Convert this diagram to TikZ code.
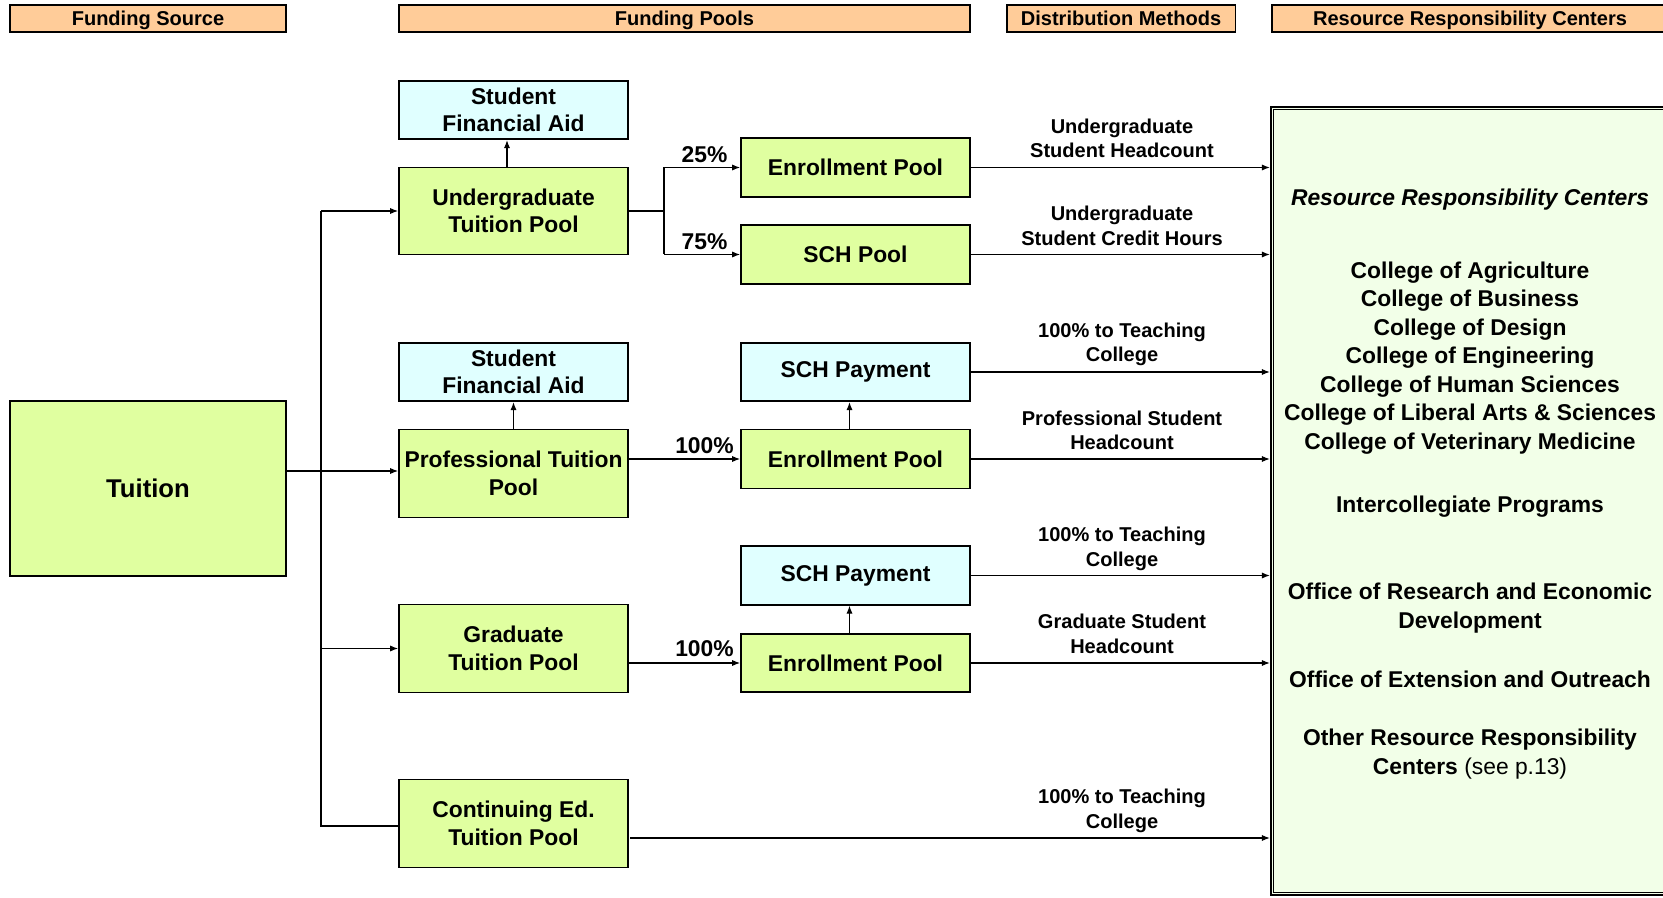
\documentclass[tikz,border=0pt]{standalone}
\usepackage{fontspec}
\setmainfont{Liberation Sans}
\usetikzlibrary{arrows.meta}
\definecolor{poolgreen}{HTML}{E0FFA0}
\definecolor{aidcyan}{HTML}{E0FFFF}
\definecolor{rrcgreen}{HTML}{F2FFE8}
\definecolor{hdrorange}{HTML}{FFCC99}
\begin{document}
\begin{tikzpicture}[x=0.02cm,y=-0.02cm,
  box/.style={draw, line width=1.1pt, minimum width=4.58cm, align=center,
    font=\fontsize{13}{15.6}\selectfont\bfseries, inner sep=1pt},
  greenbox/.style={box, fill=poolgreen},
  cyanbox/.style={box, fill=aidcyan},
  hdr/.style={draw, line width=1.1pt, fill=hdrorange,
    font=\fontsize{11.4}{13.9}\selectfont\bfseries, minimum height=0.53cm, inner sep=0pt, text depth=0pt},
  lbl/.style={align=center, font=\fontsize{11.4}{13.9}\selectfont\bfseries, inner sep=0pt},
  pct/.style={font=\fontsize{13}{15.6}\selectfont\bfseries, inner sep=0pt},
  rrct/.style={align=center, font=\fontsize{13}{16.2}\selectfont\bfseries, inner sep=0pt},
  arr/.style={-{Latex[length=4.5pt,width=3.5pt]}, line width=0.6pt},
  conn/.style={line width=0.6pt}]
\useasboundingbox (0,0) rectangle (1663,898);
\clip (0,0) rectangle (1663,898);

% headers
\node[hdr, minimum width=5.53cm] (h1) at (148,18.5) {Funding Source};
\node[hdr, minimum width=11.42cm] (h2) at (684.5,18.5) {Funding Pools};
\node[hdr, minimum width=4.58cm] (h3) at (1121,18.5) {Distribution Methods};
\node[hdr, minimum width=7.93cm] (h4) at (1470,18.5) {Resource Responsibility Centers};

% RRC box
\node[draw, line width=1.4pt, fill=rrcgreen, minimum width=7.94cm, minimum height=15.76cm, inner sep=0pt] (rrc) at (1469.5,501) {};
\draw[line width=0.6pt] ([shift={(3.5,3.5)}]rrc.north west) rectangle ([shift={(-3.5,-3.5)}]rrc.south east);

\node[rrct, font=\fontsize{13}{16.2}\selectfont\bfseries\itshape] (rrchead) at (1470,200) {Resource Responsibility Centers};
\node[rrct] (colleges) at (1470,358) {College of Agriculture\\College of Business\\College of Design\\College of Engineering\\College of Human Sciences\\College of Liberal Arts \& Sciences\\College of Veterinary Medicine};
\node[rrct] (icp) at (1470,507) {Intercollegiate Programs};
\node[rrct] (ored) at (1470,608) {Office of Research and Economic\\Development};
\node[rrct] (oeo) at (1470,679.5) {Office of Extension and Outreach};
\node[rrct] (other) at (1470,754) {Other Resource Responsibility\\Centers {\mdseries (see p.13)}};

% pool boxes
\node[greenbox, minimum width=5.53cm, minimum height=3.5cm, font=\fontsize{14.6}{17}\selectfont\bfseries] (tuition) at (148,488.5) {Tuition};
\node[cyanbox, minimum height=1.17cm] (sfa1) at (513.5,110) {Student\\Financial Aid};
\node[greenbox, minimum height=1.74cm] (utp) at (513.5,211) {Undergraduate\\Tuition Pool};
\node[greenbox, minimum height=1.18cm] (ep1) at (855.5,167.5) {Enrollment Pool};
\node[greenbox, minimum height=1.18cm] (schp) at (855.5,254.5) {SCH Pool};
\node[cyanbox, minimum height=1.17cm] (sfa2) at (513.5,372) {Student\\Financial Aid};
\node[greenbox, minimum height=1.76cm] (ptp) at (513.5,473.5) {Professional Tuition\\Pool};
\node[cyanbox, minimum height=1.17cm] (pay1) at (855.5,372) {SCH Payment};
\node[greenbox, minimum height=1.18cm] (ep2) at (855.5,459) {Enrollment Pool};
\node[cyanbox, minimum height=1.17cm] (pay2) at (855.5,575.5) {SCH Payment};
\node[greenbox, minimum height=1.17cm] (ep3) at (855.5,663) {Enrollment Pool};
\node[greenbox, minimum height=1.76cm] (gtp) at (513.5,648.5) {Graduate\\Tuition Pool};
\node[greenbox, minimum height=1.76cm] (cetp) at (513.5,823.5) {Continuing Ed.\\Tuition Pool};

% trunk
\coordinate (tj) at (321,471);
\coordinate (cj) at (321,826);
\draw[conn] (tuition.east |- tj) -- (tj);
\draw[arr] (tj) -- (tj -| ptp.west);
\draw[conn] (tj |- utp.west) -- (cj) -- (cj -| cetp.west);
\draw[arr] (tj |- utp.west) -- (utp.west);
\draw[arr] (tj |- gtp.west) -- (gtp.west);

% undergraduate split
\coordinate (sp) at (664,211);
\draw[conn] (utp.east) -- (sp);
\draw[conn] (sp |- ep1) -- (sp |- schp);
\draw[arr] (sp |- ep1) -- (ep1.west);
\draw[arr] (sp |- schp) -- (schp.west);
\node[pct] (p25) at (704.5,155) {25\%};
\node[pct] (p75) at (704.5,242) {75\%};

\draw[arr] (ptp.east |- ep2) -- (ep2.west);
\draw[arr] (gtp.east |- ep3) -- (ep3.west);
\node[pct] (p100a) at (704.5,445.5) {100\%};
\node[pct] (p100b) at (704.5,649) {100\%};

% up arrows
\coordinate (ua) at (507,0);
\draw[arr] (utp.north -| ua) -- (sfa1.south -| ua);
\draw[arr] (ptp.north) -- (sfa2.south);
\coordinate (ub) at (849.5,0);
\draw[arr] (ep2.north -| ub) -- (pay1.south -| ub);
\draw[arr] (ep3.north -| ub) -- (pay2.south -| ub);

% right arrows
\foreach \n in {ep1,schp,pay1,ep2,pay2,ep3}
  \draw[arr] (\n.east) -- (\n.east -| rrc.west);
\coordinate (ce) at (630,838);
\draw[arr] (ce) -- (ce -| rrc.west);

% distribution labels
\node[lbl] (l1) at (1122,138.3) {Undergraduate\\Student Headcount};
\node[lbl] (l2) at (1122,225.8) {Undergraduate\\Student Credit Hours};
\node[lbl] (l3) at (1122,344.5) {100\% to Teaching\\College};
\node[lbl] (l4) at (1122,430.5) {Professional Student\\Headcount};
\node[lbl] (l5) at (1122,548.8) {100\% to Teaching\\College};
\node[lbl] (l6) at (1122,634) {Graduate Student\\Headcount};
\node[lbl] (l7) at (1122,811) {100\% to Teaching\\College};
\end{tikzpicture}
\end{document}
